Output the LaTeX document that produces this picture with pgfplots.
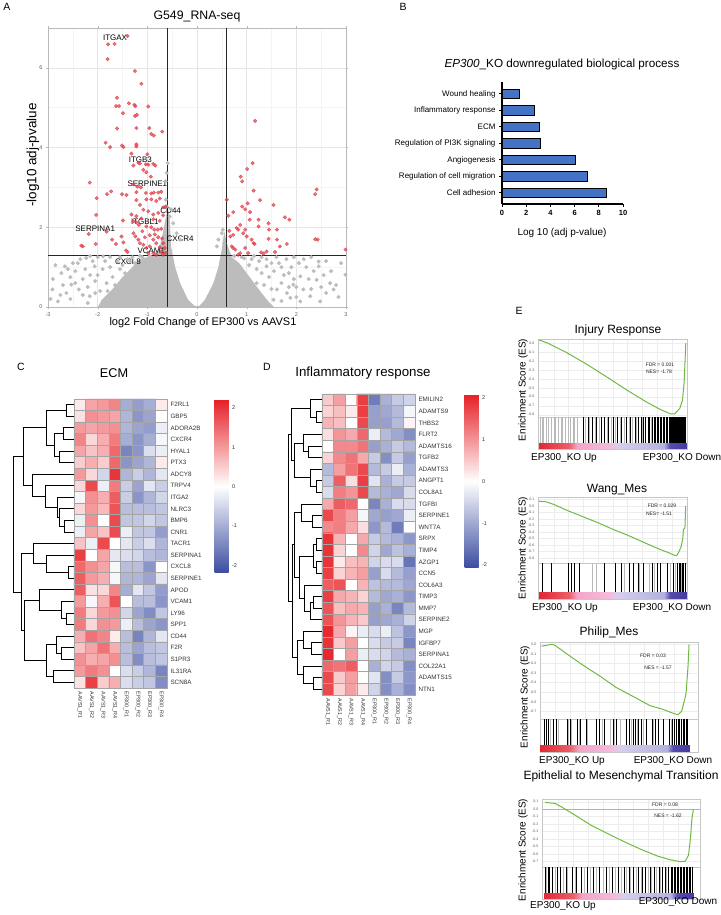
\documentclass[border=0pt]{standalone}
\usepackage{pgfplots}
\pgfplotsset{compat=1.18}
\usepackage{pgfplotstable}
\usepackage{fontspec}
\setmainfont{Liberation Sans}
\definecolor{ptred}{RGB}{222,60,70}
\definecolor{ptgrey}{RGB}{188,188,188}
\definecolor{barblue}{RGB}{68,114,196}
\definecolor{esgreen}{RGB}{112,186,68}
\definecolor{cellline}{RGB}{165,165,165}
\newcommand\fs[1]{\fontsize{#1}{#1}\selectfont}
\pgfplotsset{every axis/.append style={/pgf/number format/assume math mode=true},
  colormap={hm}{rgb255=(59,76,160) rgb255=(255,255,255) rgb255=(230,33,39)},
  colormap={gsea}{rgb255(0cm)=(226,40,50); rgb255(2cm)=(235,95,105); rgb255(2.6cm)=(243,165,200); rgb255(4.8cm)=(244,188,218); rgb255(5.3cm)=(214,208,236); rgb255(8.5cm)=(178,176,222); rgb255(8.9cm)=(85,75,172); rgb255(10cm)=(70,60,160)},
  esaxis/.style={anchor=north west, scale only axis, axis line style={gray!45, line width=0.5pt}, tick style={draw=none}, major tick length=0,
    xtick={0.1,0.2,0.3,0.4,0.5,0.6,0.7,0.8,0.9}, xticklabels={}, ytick={-0.8,-0.7,-0.6,-0.5,-0.4,-0.3,-0.2,-0.1,0,0.1},
    grid=major, grid style={gray!14, line width=0.3pt},
    yticklabel style={font=\fs{3.6}, text=gray!70!black, /pgf/number format/.cd, fixed, fixed zerofill, precision=1}},
  bcaxis/.style={anchor=north west, scale only axis, axis line style={gray!45, line width=0.5pt}, xtick=\empty, ytick=\empty,
    ymin=-0.25, ymax=1, point meta min=0, point meta max=1, colormap name=gsea},
  hmaxis/.style={anchor=north west, scale only axis, width=93pt, xmin=-0.5, xmax=7.5, y dir=reverse, clip=false, axis on top,
    colormap name=hm, xtick={0,...,7}, xticklabels={AAVS1\_R1,AAVS1\_R2,AAVS1\_R3,AAVS1\_R4,EP300\_R1,EP300\_R2,EP300\_R3,EP300\_R4},
    yticklabel pos=right, major tick length=0, minor tick length=0, minor xtick={0.5,1.5,...,6.5},
    xminorgrids, yminorgrids, minor grid style={cellline, line width=0.7pt}, axis line style={cellline, line width=0.7pt},
    xticklabel style={rotate=-90, anchor=west, font=\fs{5.4}, text=gray!40!black},
    yticklabel style={font=\fs{6.3}, text=gray!40!black}, colorbar},
  hmbar/.style={colorbar style={at={(parent axis.north east)}, anchor=north west, xshift=#1, yshift=-1pt, scale only axis, width=14pt, height=173pt,
    ytick={-2,-1,0,1,2}, yticklabel style={font=\fs{5.5}, text=gray!40!black}, major tick length=0, axis line style={draw=none}}}
}
\def\hr#1#2#3#4#5#6#7#8#9{(0,#1)[#2] (1,#1)[#3] (2,#1)[#4] (3,#1)[#5] (4,#1)[#6] (5,#1)[#7] (6,#1)[#8] (7,#1)[#9] }
\edef\Cdata{%
\hr{0}{0.2}{0.9}{1.0}{1.2}{-1.0}{-1.2}{-1.0}{0.2}%
\hr{1}{0.3}{1.1}{1.0}{0.9}{-0.9}{-1.3}{-1.1}{0.0}%
\hr{2}{1.0}{0.9}{1.0}{1.1}{-0.9}{-1.1}{-1.2}{-0.2}%
\hr{3}{1.2}{0.4}{0.8}{1.3}{-1.0}{-1.3}{-1.0}{-0.1}%
\hr{4}{0.9}{0.6}{0.8}{1.5}{-1.5}{-1.3}{-0.4}{-0.2}%
\hr{5}{0.5}{0.8}{0.5}{1.5}{-1.3}{-1.1}{-0.9}{0.2}%
\hr{6}{1.0}{0.4}{-0.5}{2.0}{-0.9}{-0.6}{-0.9}{-0.3}%
\hr{7}{0.4}{1.8}{-0.2}{1.3}{-0.6}{-1.1}{-0.3}{-0.6}%
\hr{8}{-0.1}{1.1}{0.8}{1.6}{-0.6}{-1.3}{-0.9}{-0.5}%
\hr{9}{0.4}{1.0}{0.7}{1.7}{-0.8}{-0.8}{-0.8}{-0.7}%
\hr{10}{-0.2}{1.1}{0.0}{1.8}{-0.7}{-0.7}{-0.5}{-0.7}%
\hr{11}{-0.2}{0.9}{0.6}{1.8}{-0.2}{-0.7}{-0.7}{-1.2}%
\hr{12}{0.6}{-0.2}{1.8}{0.0}{-0.3}{-0.6}{-0.4}{-0.9}%
\hr{13}{1.9}{0.0}{0.9}{-0.3}{-0.4}{-0.5}{-0.8}{-0.9}%
\hr{14}{1.5}{1.1}{0.9}{-0.1}{-0.8}{-0.8}{-1.3}{0.0}%
\hr{15}{1.6}{1.0}{0.8}{-0.1}{-0.9}{-0.9}{-1.1}{-0.3}%
\hr{16}{1.6}{0.3}{0.4}{1.2}{-1.0}{-0.3}{-0.7}{-1.2}%
\hr{17}{1.0}{-0.1}{0.8}{1.7}{0.0}{-0.8}{-0.8}{-1.3}%
\hr{18}{1.3}{0.4}{1.0}{1.1}{-0.5}{-1.1}{-1.4}{-0.7}%
\hr{19}{1.3}{0.4}{1.1}{1.0}{-0.2}{-0.8}{-1.1}{-1.3}%
\hr{20}{0.8}{1.4}{1.2}{0.2}{-0.8}{-1.5}{-0.9}{-0.3}%
\hr{21}{0.6}{0.9}{1.4}{0.8}{-0.8}{-1.1}{-0.8}{-0.7}%
\hr{22}{1.1}{0.8}{0.9}{1.1}{-0.8}{-1.4}{-0.8}{-0.7}%
\hr{23}{1.0}{1.3}{1.1}{0.0}{-0.4}{-0.6}{-0.9}{-1.5}%
\hr{24}{0.3}{1.9}{0.5}{0.8}{-0.4}{-0.6}{-0.7}{-1.4}%
}
\edef\Ddata{%
\hr{0}{0.5}{0.9}{0.0}{1.8}{-1.5}{-0.9}{-0.6}{-0.5}%
\hr{1}{0.4}{0.6}{0.2}{1.8}{-1.1}{-1.0}{-0.8}{-0.1}%
\hr{2}{0.7}{0.6}{0.0}{1.7}{-1.1}{-1.1}{-0.8}{0.1}%
\hr{3}{0.3}{1.0}{0.8}{1.4}{-0.2}{-0.8}{-1.0}{-1.3}%
\hr{4}{0.0}{1.1}{1.1}{1.3}{-1.1}{-0.9}{-0.6}{-0.8}%
\hr{5}{0.4}{1.1}{1.3}{0.8}{-0.6}{-1.3}{-0.6}{-1.1}%
\hr{6}{-0.8}{0.9}{1.3}{1.7}{-0.8}{-0.6}{-0.2}{-0.9}%
\hr{7}{-0.6}{1.5}{0.3}{1.8}{-0.3}{-0.9}{-0.6}{-0.6}%
\hr{8}{-0.4}{1.2}{1.0}{1.7}{-0.8}{-0.9}{-1.0}{-0.4}%
\hr{9}{0.8}{1.5}{1.4}{0.0}{-1.4}{-0.9}{-0.4}{-0.4}%
\hr{10}{1.7}{1.2}{0.9}{-0.1}{-1.0}{-1.1}{-1.0}{-0.2}%
\hr{11}{1.1}{1.2}{0.8}{0.3}{-1.2}{-0.8}{-1.5}{0.0}%
\hr{12}{1.9}{0.7}{0.0}{0.8}{-0.6}{-0.8}{-0.9}{-1.2}%
\hr{13}{1.9}{0.4}{0.0}{1.1}{-0.5}{-1.0}{-0.7}{-0.9}%
\hr{14}{1.9}{0.2}{0.6}{0.7}{-0.5}{-0.4}{-0.4}{-1.6}%
\hr{15}{1.8}{0.4}{0.7}{0.9}{-1.1}{-0.4}{-0.8}{-1.1}%
\hr{16}{1.5}{1.6}{0.0}{0.7}{-0.7}{-0.8}{-0.8}{-1.0}%
\hr{17}{1.8}{0.8}{0.7}{0.4}{-0.8}{-1.0}{-0.9}{-1.2}%
\hr{18}{1.6}{0.6}{0.8}{0.7}{-1.1}{-0.9}{-1.4}{-0.8}%
\hr{19}{1.6}{1.0}{0.7}{0.5}{-1.1}{-1.0}{-0.9}{-0.5}%
\hr{20}{2.0}{0.8}{0.1}{-0.2}{-0.4}{-0.2}{-0.7}{-1.2}%
\hr{21}{1.9}{0.5}{0.9}{0.0}{-0.4}{-0.6}{-0.6}{-1.4}%
\hr{22}{2.0}{0.0}{0.9}{-0.2}{-0.4}{-0.5}{-0.8}{-0.9}%
\hr{23}{1.4}{1.3}{1.5}{0.0}{-0.9}{-0.5}{-0.6}{-1.3}%
\hr{24}{1.7}{0.5}{0.9}{0.0}{-0.3}{-1.3}{-0.6}{-1.2}%
\hr{25}{1.7}{0.4}{0.9}{0.2}{-0.5}{-1.3}{-0.9}{-1.3}%
}
\pgfplotstableread{
x y c
0 -0.25 0
0.2 -0.25 0.2
0.2 0 0.2
0 0 0
0.2 -0.25 0.2
0.26 -0.25 0.26
0.26 0 0.26
0.2 0 0.2
0.26 -0.25 0.26
0.48 -0.25 0.48
0.48 0 0.48
0.26 0 0.26
0.48 -0.25 0.48
0.53 -0.25 0.53
0.53 0 0.53
0.48 0 0.48
0.53 -0.25 0.53
0.85 -0.25 0.85
0.85 0 0.85
0.53 0 0.53
0.85 -0.25 0.85
0.89 -0.25 0.89
0.89 0 0.89
0.85 0 0.85
0.89 -0.25 0.89
1.0 -0.25 1.0
1.0 0 1.0
0.89 0 0.89
}\striptab
\begin{document}
\begin{tikzpicture}[x=1pt,y=1pt]
\useasboundingbox (0,0) rectangle (720,915);
% ---------------- Panel A: volcano ----------------
\begin{axis}[at={(48pt,887pt)}, anchor=north west, scale only axis, width=298pt, height=279pt,
  xmin=-3, xmax=3, ymin=0, ymax=7.0, xtick={-3,-2,-1,0,1,2,3}, ytick={0,2,4,6},
  minor xtick={-2.5,-1.5,-0.5,0.5,1.5,2.5}, minor ytick={1,3,5}, grid=both,
  major grid style={gray!20, line width=0.5pt}, minor grid style={gray!9, line width=0.4pt},
  axis line style={gray!55, line width=0.6pt}, tick style={gray!55}, tick align=outside,
  major tick length=2pt, minor tick length=0pt,
  ticklabel style={font=\fs{5.5}, text=gray!75!black}]
\addplot[fill=ptgrey, draw=none] coordinates {(-2.0,0) (-1.9,0.2) (-1.7,0.45) (-1.5,0.75) (-1.3,1.0) (-1.15,1.2) (-1.0,1.25) (-0.85,1.3) (-0.75,1.5) (-0.68,1.9) (-0.62,2.3) (-0.58,2.45) (-0.55,2.2) (-0.52,1.5) (-0.44,1.0) (-0.34,0.6) (-0.18,0.18) (-0.05,0.03) (0.05,0.03) (0.16,0.18) (0.33,0.6) (0.43,1.0) (0.50,1.45) (0.55,1.9) (0.6,1.6) (0.7,1.25) (0.85,1.1) (1.0,0.85) (1.15,0.6) (1.3,0.35) (1.45,0.12) (1.55,0)} \closedcycle;
\addplot[only marks, mark=*, mark size=1.8pt, mark options={fill=ptgrey, draw=ptgrey}] coordinates {
(-2.91,0.44) (-2.66,1.02) (-2.73,0.85) (-2.53,0.56) (-2.38,0.44) (-2.23,1.23) (-2.06,1.02) (-1.89,1.27) (-1.82,0.60) (-1.69,0.35) (-2.63,0.35) (-2.16,0.27) (-2.80,0.14) (1.81,0.35) (1.94,0.56) (1.61,0.44) (1.54,0.18) (2.45,1.02) (2.45,1.14) (2.28,0.27) (2.68,0.60) (2.75,0.44) (2.99,0.81) (2.48,0.14) (2.08,0.77) (1.40,1.02) (1.30,0.85) (1.20,0.60) (2.14,0.44) (2.41,0.68) (1.88,0.23) (2.08,0.14)
(-0.59,3.61) (-0.61,3.36) (-0.63,3.15) (-0.63,2.69) (-0.61,2.52) (0.50,1.85) (0.52,1.94) (0.43,1.69) (-0.55,2.27) (-0.48,2.10) (-0.41,1.85) (-0.34,1.69) (0.40,1.52) (-0.52,2.45) (0.55,1.6)
(-2.45,0.9) (-2.3,0.7) (-2.2,0.5) (-2.0,0.8) (-1.95,0.4) (-1.75,1.0) (-1.6,1.15) (-1.55,0.95) (-1.4,1.2) (-2.1,1.15) (-1.9,0.95) (-2.35,1.2) (-2.55,0.2) (-2.9,0.7) (-2.75,0.3) (-2.5,1.1) (-2.2,0.1) (1.35,0.55) (1.45,0.75) (1.55,0.9) (1.65,1.1) (1.75,0.8) (1.9,1.0) (1.7,0.6) (1.5,0.45) (2.0,0.5) (2.2,1.0) (2.25,0.7) (2.35,0.9) (2.6,0.35) (2.85,0.25) (1.25,1.15) (1.1,1.2) (0.95,1.22) (1.05,1.05) (2.15,1.2) (2.55,0.8) (1.95,1.25) (1.8,1.2) (-1.3,1.25) (-1.15,1.28) (-1.7,0.75) (-1.45,0.5) (-1.6,0.25) (-1.2,0.6) (1.3,0.2) (1.7,0.15) (2.0,0.25) (-1.9,0.15)
(-2.4,1.1) (-2.25,0.95) (-2.15,0.8) (-2.05,0.65) (-2.3,0.3) (-2.45,0.6) (-2.6,0.95) (-2.7,0.55) (-2.85,1.05) (-2.95,0.2) (-1.85,1.15) (-1.8,0.4) (-1.65,0.55) (-1.55,1.25) (-1.5,1.05) (-1.75,1.25) (-2.0,1.25) (-2.15,1.28) (-1.35,1.15) (-1.25,1.1) (-1.1,1.25) (-0.95,1.28) (1.15,1.28) (1.3,1.25) (1.4,1.2) (1.5,1.1) (1.6,1.25) (1.7,1.0) (1.85,0.85) (1.95,0.7) (2.05,1.1) (2.3,1.25) (2.6,1.15) (2.7,0.9) (2.8,0.55) (2.9,1.1) (1.85,0.5) (2.3,0.45) (2.5,0.5) (1.2,0.95) (0.9,1.25) (0.75,1.28) (-2.55,0.75) (-2.05,0.35) (-1.45,0.85) (-1.25,0.85)};
\addplot[only marks, mark=*, mark size=1.8pt, mark options={fill=ptred, draw=ptred, fill opacity=0.72, draw opacity=0.72}] coordinates {
(-1.40,6.80) (-1.79,6.59) (-1.66,6.60) (-1.80,6.22) (-1.25,5.92) (-1.12,5.60) (-1.61,5.25) (-1.63,5.04) (-1.57,5.04) (-1.37,5.11) (-1.26,5.07) (-1.24,5.04) (-0.98,5.03) (-1.49,4.86) (-1.25,4.79) (-1.21,4.82) (-1.61,4.48) (-1.22,4.49) (-0.96,4.49) (-0.92,4.34) (-0.87,4.30) (-0.70,4.40) (-1.84,4.12) (-1.75,4.01) (-1.51,4.05) (-1.48,4.01) (-1.22,4.08) (-1.22,4.03) (-1.32,3.85) (-1.00,3.83) (-1.18,3.62) (-1.15,3.60) (-1.03,3.58) (-0.98,3.57) (-0.88,3.59) (-0.84,3.55) (-1.28,3.55) (-1.08,3.44) (-1.02,3.38) (-0.93,3.27) (-2.16,3.12) (-1.28,3.08) (-1.20,3.02) (-1.13,3.00) (-1.73,2.90) (-1.81,2.83) (-2.02,2.73) (-1.51,2.83) (-1.42,2.81) (-1.22,2.88) (-1.03,2.86) (-0.92,2.85) (-0.87,2.87) (-0.78,2.87) (-0.72,2.89) (-1.02,2.70) (-0.92,2.70) (-0.82,2.66) (-0.75,2.72) (-1.22,2.68) (-1.15,2.56) (-0.63,2.52) (-0.68,2.50) (-1.08,2.44) (-0.98,2.40) (-0.88,2.32) (-0.78,2.36) (-0.68,2.30) (-1.32,2.32) (-1.22,2.28) (-1.12,2.22) (-0.88,2.20) (-0.75,2.16) (-2.03,2.31) (-1.49,2.17) (-1.28,2.15) (-1.22,2.12) (-1.17,2.06) (-1.02,2.02) (-0.92,2.00) (-0.86,1.94) (-0.79,1.94) (-0.72,1.96) (-2.18,1.83) (-2.33,1.54) (-2.30,1.52) (-2.04,1.58) (-1.82,1.89) (-1.71,1.69) (-1.63,1.58) (-1.52,1.77) (-1.48,1.62) (-1.43,1.42) (-1.40,1.38) (-1.28,1.85) (-1.24,1.77) (-1.18,1.69) (-1.15,1.60) (-1.08,1.56) (-1.02,1.48) (-0.95,1.52) (-0.88,1.69) (-0.82,1.60) (-0.75,1.50) (-0.68,1.60) (-0.65,1.48) (-0.72,1.38) (-0.98,1.35) (-0.88,1.35) (-0.82,1.31) (-0.68,1.31) (-0.63,1.36) (-1.10,1.90) (-1.05,1.75) (-0.95,1.80) (-0.85,1.82) (-0.78,1.75) (-0.70,1.72)
(1.17,4.67) (1.12,3.61) (1.01,3.46) (0.88,3.27) (0.91,3.15) (1.14,2.92) (0.60,2.69) (1.02,2.60) (0.91,2.52) (0.97,2.45) (1.27,2.68) (1.54,2.56) (0.73,2.38) (0.63,2.29) (1.07,2.38) (1.77,2.25) (1.86,2.19) (1.24,2.19) (1.24,2.02) (1.44,2.10) (1.45,1.94) (1.06,2.19) (0.87,2.06) (0.80,1.98) (0.83,1.94) (0.97,1.94) (2.38,2.83) (2.41,2.95) (2.38,1.70) (2.43,1.69) (2.99,1.44) (0.65,1.91) (0.67,1.77) (0.73,1.81) (0.70,1.52) (0.73,1.48) (0.93,1.85) (1.00,1.77) (1.10,1.69) (1.14,1.60) (1.16,1.58) (1.29,1.37) (1.34,1.34) (1.44,1.71) (1.61,1.69) (1.61,1.94) (1.67,1.52) (1.81,1.58) (1.57,1.38) (1.40,1.39) (0.77,1.44) (0.83,1.31) (0.87,1.35) (1.03,1.35) (0.97,1.48)};
\addplot[gray!30!black, line width=0.9pt] coordinates {(-0.585,0) (-0.585,7)};
\addplot[gray!30!black, line width=0.9pt] coordinates {(0.585,0) (0.585,7)};
\addplot[gray!30!black, line width=0.9pt] coordinates {(-3,1.3) (3,1.3)};
\begin{scope}[font=\fs{8}]
\node at (axis cs:-1.65,6.75) {ITGAX};
\node at (axis cs:-1.14,3.69) {ITGB3};
\node at (axis cs:-1.00,3.10) {SERPINE1};
\node at (axis cs:-0.53,2.42) {CD44};
\node at (axis cs:-1.05,2.13) {ITGBL1};
\node at (axis cs:-2.05,1.96) {SERPINA1};
\node at (axis cs:-0.34,1.71) {CXCR4};
\node at (axis cs:-0.92,1.42) {VCAM1};
\node at (axis cs:-1.39,1.14) {CXCL8};
\end{scope}
\end{axis}
\node[font=\fs{12.3}] at (197,899) {G549\_RNA-seq};
\node[font=\fs{11}] at (203,592) {log2 Fold Change of EP300 vs AAVS1};
\node[font=\fs{13.5}, rotate=90] at (33,760) {-log10 adj-pvalue};
% ---------------- Panel B: bars ----------------
\begin{axis}[at={(502pt,833pt)}, anchor=north west, scale only axis, width=121pt, height=122pt,
  xmin=0, xmax=10, ymin=-0.667, ymax=6.727, axis lines=left, axis line style={black, line width=1.1pt, -},
  xtick={0,2,4,6,8,10}, ytick={0,1,2,3,4,5,6},
  yticklabels={Cell adhesion, Regulation of cell migration, Angiogenesis, Regulation of PI3K signaling, ECM, Inflammatory response, Wound healing},
  tick align=outside, major tick length=3pt, tick style={black, line width=1pt},
  xticklabel style={font=\fs{7.5}\bfseries}, yticklabel style={font=\fs{8}}]
\addplot[xbar, fill=barblue, draw=black, line width=1pt, bar width=9.3pt] coordinates {(8.6,0) (7.03,1) (6.1,2) (3.21,3) (3.08,4) (2.66,5) (1.43,6)};
\end{axis}
\node[font=\fs{11.7}] at (562,851) {\textit{EP300}\_KO downregulated biological process};
\node[font=\fs{10}] at (562,682) {Log 10 (adj p-value)};
% ---------------- Panel C: ECM heatmap ----------------
\begin{axis}[hmaxis, hmbar=39pt, at={(74pt,516pt)}, height=289.25pt, ymin=-0.5, ymax=24.5,
  point meta min=-2.2, point meta max=2.2, minor ytick={0.5,1.5,...,23.5}, ytick={0,...,24},
  yticklabels={F2RL1,GBP5,ADORA2B,CXCR4,HYAL1,PTX3,ADCY8,TRPV4,ITGA2,NLRC3,BMP6,CNR1,TACR1,SERPINA1,CXCL8,SERPINE1,APOD,VCAM1,LY96,SPP1,CD44,F2R,S1PR3,IL31RA,SCN8A}]
\edef\plotC{\noexpand\addplot[matrix plot, mesh/cols=8, point meta=explicit] coordinates {\Cdata};}\plotC
\addplot[black, line width=0.9pt, unbounded coords=jump] coordinates {
(-0.5,0) (-1.19,0) (-1.19,1) (-0.5,1) (nan,nan)
(-0.5,2) (-1.42,2) (-1.42,3) (-0.5,3) (nan,nan)
(-0.5,4) (-1.76,4) (-1.76,5) (-0.5,5) (nan,nan)
(-1.42,2.5) (-2.14,2.5) (-2.14,4.5) (-1.76,4.5) (nan,nan)
(-1.19,0.5) (-2.91,0.5) (-2.91,3.5) (-2.14,3.5) (nan,nan)
(-0.5,10) (-1.36,10) (-1.36,11) (-0.5,11) (nan,nan)
(-0.5,9) (-1.71,9) (-1.71,10.5) (-1.36,10.5) (nan,nan)
(-0.5,8) (-1.94,8) (-1.94,9.75) (-1.71,9.75) (nan,nan)
(-0.5,7) (-2.97,7) (-2.97,8.875) (-1.94,8.875) (nan,nan)
(-0.5,6) (-4.06,6) (-4.06,7.94) (-2.97,7.94) (nan,nan)
(-2.91,2.0) (-4.87,2.0) (-4.87,6.97) (-4.06,6.97) (nan,nan)
(-0.5,14) (-0.99,14) (-0.99,15) (-0.5,15) (nan,nan)
(-0.5,13) (-2.86,13) (-2.86,14.5) (-0.99,14.5) (nan,nan)
(-0.5,12) (-4.01,12) (-4.01,13.75) (-2.86,13.75) (nan,nan)
(-0.5,18) (-1.13,18) (-1.13,19) (-0.5,19) (nan,nan)
(-0.5,17) (-1.62,17) (-1.62,18.5) (-1.13,18.5) (nan,nan)
(-0.5,16) (-3.43,16) (-3.43,17.75) (-1.62,17.75) (nan,nan)
(-0.5,21) (-1.56,21) (-1.56,22) (-0.5,22) (nan,nan)
(-0.5,20) (-2.05,20) (-2.05,21.5) (-1.56,21.5) (nan,nan)
(-0.5,23) (-2.28,23) (-2.28,24) (-0.5,24) (nan,nan)
(-2.05,20.75) (-2.86,20.75) (-2.86,23.5) (-2.28,23.5) (nan,nan)
(-3.43,16.875) (-4.72,16.875) (-4.72,22.125) (-2.86,22.125) (nan,nan)
(-4.01,12.875) (-5.01,12.875) (-5.01,19.5) (-4.72,19.5) (nan,nan)
(-4.87,4.485) (-5.67,4.485) (-5.67,16.19) (-5.01,16.19)};
\end{axis}
% ---------------- Panel D: Inflammatory heatmap ----------------
\begin{axis}[hmaxis, hmbar=41pt, at={(322pt,521pt)}, height=301pt, ymin=-0.5, ymax=25.5,
  point meta min=-2.07, point meta max=2.07, minor ytick={0.5,1.5,...,24.5}, ytick={0,...,25},
  yticklabels={EMILIN2,ADAMTS9,THBS2,FLRT2,ADAMTS16,TGFB2,ADAMTS3,ANGPT1,COL8A1,TGFBI,SERPINE1,WNT7A,SRPX,TIMP4,AZGP1,CCN5,COL6A3,TIMP3,MMP7,SERPINE2,MGP,IGFBP7,SERPINA1,COL22A1,ADAMTS15,NTN1}]
\edef\plotD{\noexpand\addplot[matrix plot, mesh/cols=8, point meta=explicit] coordinates {\Ddata};}\plotD
\addplot[black, line width=0.9pt, unbounded coords=jump] coordinates {
(-0.5,1) (-1.02,1) (-1.02,2) (-0.5,2) (nan,nan)
(-0.5,0) (-1.53,0) (-1.53,1.5) (-1.02,1.5) (nan,nan)
(-0.5,4) (-1.68,4) (-1.68,5) (-0.5,5) (nan,nan)
(-0.5,3) (-2.11,3) (-2.11,4.5) (-1.68,4.5) (nan,nan)
(-0.5,7) (-1.02,7) (-1.02,8) (-0.5,8) (nan,nan)
(-0.5,6) (-1.53,6) (-1.53,7.5) (-1.02,7.5) (nan,nan)
(-2.11,3.75) (-2.83,3.75) (-2.83,6.75) (-1.53,6.75) (nan,nan)
(-1.53,0.75) (-3.13,0.75) (-3.13,5.25) (-2.83,5.25) (nan,nan)
(-0.5,10) (-1.28,10) (-1.28,11) (-0.5,11) (nan,nan)
(-0.5,9) (-2.25,9) (-2.25,10.5) (-1.28,10.5) (nan,nan)
(-0.5,12) (-0.96,12) (-0.96,13) (-0.5,13) (nan,nan)
(-0.5,14) (-0.96,14) (-0.96,15) (-0.5,15) (nan,nan)
(-0.96,12.5) (-1.25,12.5) (-1.25,14.5) (-0.96,14.5) (nan,nan)
(-0.5,17) (-1.25,17) (-1.25,18) (-0.5,18) (nan,nan)
(-1.25,17.5) (-1.53,17.5) (-1.53,19) (-0.5,19) (nan,nan)
(-0.5,16) (-1.97,16) (-1.97,18.25) (-1.53,18.25) (nan,nan)
(-1.25,13.5) (-2.4,13.5) (-2.4,17.125) (-1.97,17.125) (nan,nan)
(-2.25,9.75) (-2.83,9.75) (-2.83,15.31) (-2.4,15.31) (nan,nan)
(-0.5,21) (-1.4,21) (-1.4,22) (-0.5,22) (nan,nan)
(-0.5,20) (-2.1,20) (-2.1,21.5) (-1.4,21.5) (nan,nan)
(-0.5,24) (-1.25,24) (-1.25,25) (-0.5,25) (nan,nan)
(-0.5,23) (-2.1,23) (-2.1,24.5) (-1.25,24.5) (nan,nan)
(-2.1,20.75) (-2.6,20.75) (-2.6,23.75) (-2.1,23.75) (nan,nan)
(-2.83,12.53) (-3.0,12.53) (-3.0,22.25) (-2.6,22.25) (nan,nan)
(-3.13,3.0) (-3.4,3.0) (-3.4,17.39) (-3.0,17.39)};
\end{axis}
\node[font=\fs{12.7}] at (114,542) {ECM};
\node[font=\fs{13.3}] at (363,542) {Inflammatory response};
% ---------------- Panel E: GSEA ----------------
% Injury Response
\begin{axis}[esaxis, at={(538pt,576pt)}, width=149pt, height=78pt, xmin=-0.008, xmax=1.004, ymin=-0.826, ymax=0.045]
\addplot[esgreen, line width=1pt] coordinates {(0,0.03) (0.007,0.03) (0.056,0.0) (0.19,-0.11) (0.326,-0.24) (0.46,-0.38) (0.60,-0.53) (0.73,-0.66) (0.82,-0.74) (0.89,-0.79) (0.92,-0.79) (0.955,-0.73) (0.973,-0.64) (0.984,-0.45) (0.991,-0.19) (0.996,0.0)};
\end{axis}
\begin{axis}[bcaxis, at={(538pt,498pt)}, width=149pt, height=32pt, xmin=-0.008, xmax=1.004]
\addplot[ycomb, mark=none, gray!55, line width=0.5pt] coordinates {(0.01,1) (0.02,1) (0.03,1) (0.05,1) (0.06,1) (0.08,1) (0.10,1) (0.11,1) (0.13,1) (0.15,1) (0.16,1) (0.18,1) (0.20,1) (0.21,1) (0.23,1) (0.24,1) (0.26,1) (0.31,1) (0.34,1) (0.38,1) (0.41,1) (0.46,1) (0.49,1) (0.52,1) (0.55,1) (0.58,1) (0.61,1) (0.63,1) (0.66,1) (0.70,1) (0.76,1)};
\addplot[ycomb, mark=none, black, line width=0.5pt] coordinates {(0.30,1) (0.33,1) (0.36,1) (0.39,1) (0.42,1) (0.44,1) (0.47,1) (0.50,1) (0.53,1) (0.56,1) (0.59,1) (0.62,1) (0.65,1) (0.67,1) (0.69,1) (0.71,1) (0.72,1) (0.74,1) (0.75,1) (0.77,1) (0.78,1) (0.79,1) (0.80,1) (0.81,1) (0.82,1) (0.83,1) (0.84,1) (0.85,1) (0.86,1) (0.865,1) (0.87,1) (0.88,1) (0.885,1) (0.89,1) (0.90,1) (0.905,1) (0.91,1) (0.92,1) (0.925,1) (0.93,1) (0.94,1) (0.945,1) (0.95,1) (0.96,1) (0.965,1) (0.97,1) (0.98,1) (0.985,1) (0.99,1)};
\addplot[patch, patch type=rectangle, shader=interp, point meta=explicit] table[meta=c] {\striptab};
\end{axis}
% Wang_Mes
\begin{axis}[esaxis, at={(538pt,418pt)}, width=149pt, height=66pt, xmin=-0.008, xmax=1.004, ymin=-0.877, ymax=0.135]
\addplot[esgreen, line width=1pt] coordinates {(0,0.07) (0.05,0.06) (0.1,0.02) (0.2,-0.08) (0.3,-0.17) (0.4,-0.26) (0.5,-0.36) (0.6,-0.45) (0.7,-0.55) (0.8,-0.65) (0.88,-0.72) (0.92,-0.76) (0.935,-0.76) (0.95,-0.70) (0.965,-0.62) (0.975,-0.50) (0.98,-0.36) (0.99,-0.34) (0.995,0.0)};
\end{axis}
\begin{axis}[bcaxis, at={(538pt,352pt)}, width=149pt, height=36pt, xmin=-0.008, xmax=1.004]
\addplot[ycomb, mark=none, gray!55, line width=0.5pt] coordinates {(0.36,1) (0.39,1) (0.58,1) (0.68,1) (0.745,1) (0.78,1) (0.89,1) (0.925,1) (0.965,1) (0.975,1)};
\addplot[ycomb, mark=none, black, line width=0.5pt] coordinates {(0.02,1) (0.08,1) (0.20,1) (0.22,1) (0.24,1) (0.27,1) (0.44,1) (0.52,1) (0.56,1) (0.61,1) (0.64,1) (0.67,1) (0.71,1) (0.77,1) (0.80,1) (0.82,1) (0.87,1) (0.91,1) (0.94,1) (0.95,1) (0.96,1) (0.97,1) (0.98,1) (0.99,1)};
\addplot[patch, patch type=rectangle, shader=interp, point meta=explicit] table[meta=c] {\striptab};
\end{axis}
% Philip_Mes
\begin{axis}[esaxis, at={(540pt,273pt)}, width=158pt, height=77pt, xmin=0, xmax=1.06, ymin=-0.78, ymax=0.024]
\addplot[esgreen, line width=1pt] coordinates {(0.01,-0.02) (0.045,-0.01) (0.08,0.0) (0.10,-0.01) (0.18,-0.10) (0.29,-0.22) (0.40,-0.33) (0.51,-0.45) (0.625,-0.545) (0.737,-0.64) (0.826,-0.68) (0.893,-0.72) (0.926,-0.735) (0.95,-0.70) (0.97,-0.58) (0.98,-0.51) (0.993,-0.23) (1.0,0.0)};
\end{axis}
\begin{axis}[bcaxis, at={(540pt,196pt)}, width=158pt, height=33pt, xmin=0, xmax=1.06]
\addplot[ycomb, mark=none, gray!55, line width=0.5pt] coordinates {(0.067,1) (0.12,1) (0.19,1) (0.21,1) (0.26,1) (0.32,1) (0.415,1) (0.47,1) (0.50,1) (0.54,1) (0.615,1) (0.65,1) (0.69,1) (0.76,1) (0.88,1)};
\addplot[ycomb, mark=none, black, line width=0.5pt] coordinates {(0.03,1) (0.045,1) (0.056,1) (0.09,1) (0.11,1) (0.18,1) (0.20,1) (0.25,1) (0.27,1) (0.31,1) (0.38,1) (0.40,1) (0.43,1) (0.49,1) (0.51,1) (0.58,1) (0.60,1) (0.625,1) (0.64,1) (0.66,1) (0.68,1) (0.71,1) (0.75,1) (0.77,1) (0.79,1) (0.826,1) (0.87,1) (0.89,1) (0.90,1) (0.915,1) (0.926,1) (0.937,1) (0.95,1) (0.96,1) (0.97,1) (0.98,1) (0.99,1)};
\addplot[patch, patch type=rectangle, shader=interp, point meta=explicit] table[meta=c] {\striptab};
\end{axis}
% EMT
\begin{axis}[esaxis, at={(542pt,116pt)}, width=158pt, height=68pt, xmin=-0.01, xmax=1.044, ymin=-0.777, ymax=0.136]
\addplot[gray!60, line width=0.5pt] coordinates {(-0.01,0) (1.044,0)};
\addplot[esgreen, line width=1pt] coordinates {(0.01,0.09) (0.077,0.077) (0.12,0.03) (0.21,-0.08) (0.32,-0.22) (0.43,-0.33) (0.54,-0.44) (0.65,-0.54) (0.76,-0.63) (0.846,-0.68) (0.91,-0.705) (0.945,-0.70) (0.967,-0.62) (0.98,-0.40) (0.99,-0.13) (1.0,0.0)};
\end{axis}
\begin{axis}[bcaxis, at={(542pt,48pt)}, width=158pt, height=32pt, xmin=-0.01, xmax=1.044]
\addplot[ycomb, mark=none, gray!55, line width=0.5pt] coordinates {(0.02,1) (0.08,1) (0.13,1) (0.16,1) (0.21,1) (0.27,1) (0.31,1) (0.35,1) (0.40,1) (0.44,1) (0.48,1) (0.52,1) (0.55,1) (0.58,1) (0.62,1) (0.65,1) (0.70,1) (0.72,1) (0.75,1) (0.78,1) (0.82,1)};
\addplot[ycomb, mark=none, black, line width=0.5pt] coordinates {(0.01,1) (0.03,1) (0.04,1) (0.06,1) (0.09,1) (0.11,1) (0.15,1) (0.19,1) (0.22,1) (0.25,1) (0.29,1) (0.33,1) (0.37,1) (0.42,1) (0.46,1) (0.50,1) (0.54,1) (0.57,1) (0.60,1) (0.63,1) (0.66,1) (0.68,1) (0.71,1) (0.74,1) (0.77,1) (0.79,1) (0.81,1) (0.83,1) (0.85,1) (0.86,1) (0.87,1) (0.88,1) (0.89,1) (0.90,1) (0.91,1) (0.92,1) (0.93,1) (0.94,1) (0.95,1) (0.96,1) (0.97,1) (0.98,1) (0.99,1)};
\addplot[patch, patch type=rectangle, shader=interp, point meta=explicit] table[meta=c] {\striptab};
\end{axis}
\begin{scope}[font=\fs{12}]
\node at (618,585) {Injury Response};
\node at (617,425) {Wang\_Mes};
\node at (609,283) {Philip\_Mes};
\node at (621,139) {Epithelial to Mesenchymal Transition};
\end{scope}
\begin{scope}[font=\fs{10}]
\node at (564,457) {EP300\_KO Up}; \node at (682,457) {EP300\_KO Down};
\node at (565,307) {EP300\_KO Up}; \node at (672,307) {EP300\_KO Down};
\node at (572,154) {EP300\_KO Up}; \node at (673,154) {EP300\_KO Down};
\node at (563,9) {EP300\_KO Up}; \node at (678,13) {EP300\_KO Down};
\node[rotate=90] at (523,525) {Enrichment Score (ES)};
\node[rotate=90] at (523,367) {Enrichment Score (ES)};
\node[rotate=90] at (525,218) {Enrichment Score (ES)};
\node[rotate=90] at (523,65) {Enrichment Score (ES)};
\end{scope}
\begin{scope}[font=\fs{5}, text=gray!25!black]
\node at (660,550) {FDR = 0.001}; \node at (659,543) {NES= -1.78};
\node at (662,409) {FDR = 0.029}; \node at (659,401) {NES= -1.51};
\node at (653,259) {FDR = 0.03}; \node at (658,247) {NES = -1.57};
\node at (665,110) {FDR = 0.08}; \node at (668,99) {NES = -1.62};
\end{scope}
% panel letters
\begin{scope}[font=\fs{10.5}]
\node at (7,908) {A}; \node at (403,908) {B}; \node at (21,548) {C}; \node at (267,548) {D}; \node at (519,604) {E};
\end{scope}
\end{tikzpicture}
\end{document}
